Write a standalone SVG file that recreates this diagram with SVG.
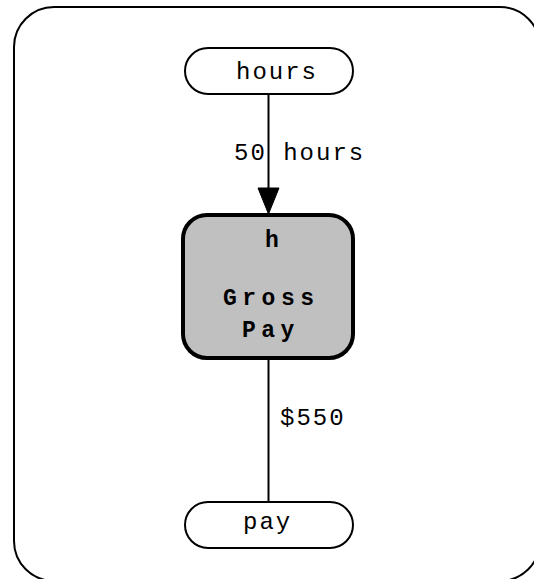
<svg xmlns="http://www.w3.org/2000/svg" width="534" height="579" viewBox="0 0 534 579">
<style>
.t{font-family:"Liberation Mono","Courier New",monospace;font-size:24px;letter-spacing:2px;fill:#000}
.b{font-family:"Liberation Mono","Courier New",monospace;font-size:23px;font-weight:bold;letter-spacing:5.5px;fill:#000}
.io{fill:#fff;stroke:#000;stroke-width:2}
.e{stroke:#000;stroke-width:2;fill:none}
</style>
<rect x="14" y="7" width="526" height="574" rx="40" ry="40" fill="#fff" stroke="#000" stroke-width="2"/>
<g id="connectors">
<line class="e" x1="268.5" y1="94" x2="268.5" y2="190"/>
<polygon points="258,188 279,188 268.5,214" fill="#000" stroke="#000" stroke-width="1"/>
<text class="t" x="234" y="160">50 hours</text>
<line class="e" x1="268.5" y1="359" x2="268.5" y2="502"/>
<text class="t" x="280" y="425">$550</text>
</g>
<g id="hours">
<rect class="io" x="185" y="48" width="168" height="46" rx="23" ry="23"/>
<text class="t" x="236" y="79">hours</text>
</g>
<g id="grosspay">
<rect x="183" y="215" width="170" height="143" rx="24" ry="24" fill="#c0c0c0" stroke="#000" stroke-width="4"/>
<text class="b" x="265" y="247">h</text>
<text class="b" x="223" y="305">Gross</text>
<text class="b" x="242" y="337">Pay</text>
</g>
<g id="pay">
<rect class="io" x="185" y="502" width="168" height="46" rx="23" ry="23"/>
<text class="t" x="243" y="529">pay</text>
</g>
</svg>
